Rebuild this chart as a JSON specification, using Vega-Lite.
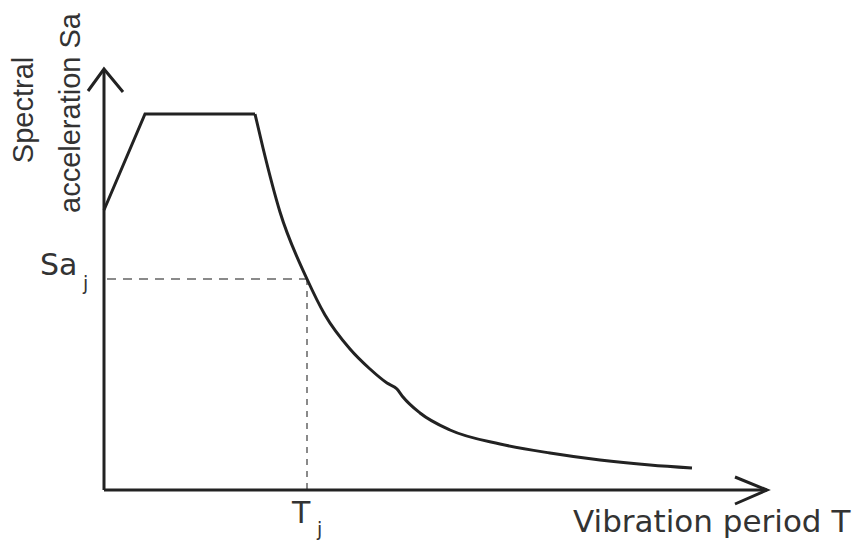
{
  "$schema": "https://vega.github.io/schema/vega-lite/v6.json",
  "width": 855,
  "height": 541,
  "padding": 0,
  "autosize": "none",
  "background": "white",
  "config": {"view": {"stroke": null}},
  "datasets": {
    "rise": [
      {"T": 0.00, "Sa": 2.80, "o": 1},
      {"T": 0.41, "Sa": 3.76, "o": 2},
      {"T": 1.51, "Sa": 3.76, "o": 3}
    ],
    "decay": [
      {"T": 1.51, "Sa": 3.76, "o": 1},
      {"T": 1.59, "Sa": 3.42, "o": 2},
      {"T": 1.76, "Sa": 2.78, "o": 3},
      {"T": 2.03, "Sa": 2.11, "o": 4},
      {"T": 2.21, "Sa": 1.75, "o": 5},
      {"T": 2.46, "Sa": 1.41, "o": 6},
      {"T": 2.66, "Sa": 1.21, "o": 7},
      {"T": 2.83, "Sa": 1.07, "o": 8},
      {"T": 2.93, "Sa": 1.01, "o": 9},
      {"T": 2.99, "Sa": 0.93, "o": 10},
      {"T": 3.16, "Sa": 0.77, "o": 11},
      {"T": 3.46, "Sa": 0.60, "o": 12},
      {"T": 3.96, "Sa": 0.46, "o": 13},
      {"T": 4.46, "Sa": 0.37, "o": 14},
      {"T": 4.96, "Sa": 0.30, "o": 15},
      {"T": 5.46, "Sa": 0.25, "o": 16},
      {"T": 5.88, "Sa": 0.22, "o": 17}
    ],
    "axes": [
      {"seg": "yaxis", "T": 0.00, "Sa": 0.00, "o": 1},
      {"seg": "yaxis", "T": 0.00, "Sa": 4.21, "o": 2},
      {"seg": "yarrow", "T": -0.16, "Sa": 3.99, "o": 1},
      {"seg": "yarrow", "T": 0.00, "Sa": 4.21, "o": 2},
      {"seg": "yarrow", "T": 0.19, "Sa": 3.98, "o": 3},
      {"seg": "xaxis", "T": 0.00, "Sa": 0.00, "o": 1},
      {"seg": "xaxis", "T": 6.63, "Sa": 0.00, "o": 2},
      {"seg": "xarrow", "T": 6.31, "Sa": 0.13, "o": 1},
      {"seg": "xarrow", "T": 6.63, "Sa": 0.00, "o": 2},
      {"seg": "xarrow", "T": 6.31, "Sa": -0.14, "o": 3}
    ],
    "hguide": [
      {"T": 0.03, "Sa": 2.11, "o": 1},
      {"T": 2.03, "Sa": 2.11, "o": 2}
    ],
    "vguide": [
      {"T": 2.03, "Sa": 2.11, "o": 1},
      {"T": 2.03, "Sa": 0.01, "o": 2}
    ],
    "ylabels": [
      {"label": "Spectral", "T": -0.71, "Sa": 3.80},
      {"label": "acceleration Sa", "T": -0.24, "Sa": 3.77}
    ],
    "labels": [
      {"label": "Sa", "T": -0.64, "Sa": 2.15},
      {"label": "T", "T": 1.88, "Sa": -0.33}
    ],
    "xtitle": [
      {"label": "Vibration period T", "T": 4.69, "Sa": -0.42}
    ],
    "subs": [
      {"label": "j", "T": -0.21, "Sa": 2.00},
      {"label": "j", "T": 2.13, "Sa": -0.46}
    ]
  },
  "encoding": {
    "x": {"field": "T", "type": "quantitative", "axis": null, "scale": {"domain": [-1.04, 7.51], "nice": false, "zero": false}},
    "y": {"field": "Sa", "type": "quantitative", "axis": null, "scale": {"domain": [-0.51, 4.90], "nice": false, "zero": false}}
  },
  "layer": [
    {
      "data": {"name": "hguide"},
      "mark": {"type": "line", "color": "#8a8a8a", "strokeWidth": 1.8, "strokeDash": [9, 7]},
      "encoding": {"order": {"field": "o"}}
    },
    {
      "data": {"name": "vguide"},
      "mark": {"type": "line", "color": "#8a8a8a", "strokeWidth": 2, "strokeDash": [6, 6]},
      "encoding": {"order": {"field": "o"}}
    },
    {
      "data": {"name": "axes"},
      "mark": {"type": "line", "color": "#222222", "strokeWidth": 3, "strokeJoin": "miter"},
      "encoding": {"detail": {"field": "seg"}, "order": {"field": "o"}}
    },
    {
      "data": {"name": "rise"},
      "mark": {"type": "line", "color": "#222222", "strokeWidth": 3, "strokeJoin": "miter"},
      "encoding": {"order": {"field": "o"}}
    },
    {
      "data": {"name": "decay"},
      "mark": {"type": "line", "color": "#222222", "strokeWidth": 3, "interpolate": "monotone"},
      "encoding": {"order": {"field": "o"}}
    },
    {
      "data": {"name": "ylabels"},
      "mark": {"type": "text", "angle": 270, "align": "center", "baseline": "alphabetic", "font": "Liberation Sans", "fontSize": 29, "color": "#333333"},
      "encoding": {"text": {"field": "label"}}
    },
    {
      "data": {"name": "labels"},
      "mark": {"type": "text", "align": "left", "baseline": "alphabetic", "font": "DejaVu Sans", "fontSize": 30, "color": "#333333"},
      "encoding": {"text": {"field": "label"}}
    },
    {
      "data": {"name": "xtitle"},
      "mark": {"type": "text", "align": "left", "baseline": "alphabetic", "font": "DejaVu Sans", "fontSize": 31, "color": "#333333"},
      "encoding": {"text": {"field": "label"}}
    },
    {
      "data": {"name": "subs"},
      "mark": {"type": "text", "align": "left", "baseline": "alphabetic", "font": "DejaVu Sans", "fontSize": 19, "color": "#333333"},
      "encoding": {"text": {"field": "label"}}
    }
  ]
}
